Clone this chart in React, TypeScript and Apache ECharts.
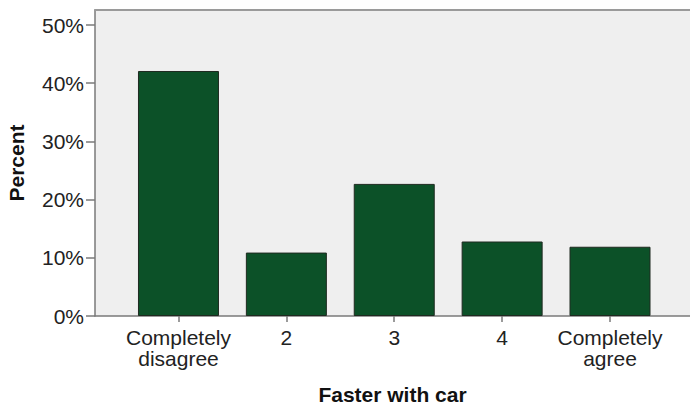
import React, { useEffect, useRef } from "react";
import * as echarts from "echarts";

const categories = ["Completely\ndisagree", "2", "3", "4", "Completely\nagree"];
const percents = [42.1, 10.9, 22.7, 12.8, 11.9];
const yTicks = [0, 10, 20, 30, 40, 50];
const xTitle = "Faster with car";
const yTitle = "Percent";

export default function App() {
  const ref = useRef<HTMLDivElement>(null);
  useEffect(() => {
    document.body.style.margin = "0";
    const chart = echarts.init(ref.current!, null, { renderer: "svg" });
    const positions = categories.map((_, i) => i + 1);
    const font = "Liberation Sans, Arial, sans-serif";
    chart.setOption({
      animation: false,
      backgroundColor: "#ffffff",
      grid: {
        left: 95,
        top: 10,
        right: 0,
        bottom: 89,
        outerBoundsMode: "none",
        containLabel: false,
        show: true,
        backgroundColor: "#efefef",
        borderWidth: 0,
      },
      xAxis: [
        {
          type: "value",
          min: 0.2262,
          max: 5.7414,
          position: "bottom",
          name: xTitle,
          nameLocation: "middle",
          nameGap: 68,
          nameTextStyle: { fontFamily: font, fontSize: 21, fontWeight: "bold", color: "#111" },
          axisLine: { show: true, lineStyle: { color: "#7a7a7a", width: 1.5 } },
          axisTick: { show: true, length: 6, customValues: positions, lineStyle: { color: "#7a7a7a", width: 1.5 } },
          axisLabel: {
            customValues: positions,
            formatter: (v: number) => categories[Math.round(v) - 1] ?? "",
            fontFamily: font,
            fontSize: 21,
            lineHeight: 21,
            color: "#222",
            margin: 11,
          },
          splitLine: { show: false },
        },
        {
          type: "value",
          min: 0.2262,
          max: 5.7414,
          position: "top",
          axisLine: { show: true, lineStyle: { color: "#9a9a9a", width: 2 } },
          axisTick: { show: false },
          axisLabel: { show: false },
          splitLine: { show: false },
        },
      ],
      yAxis: {
        type: "value",
        min: 0,
        max: 52.58,
        name: yTitle,
        nameLocation: "middle",
        nameGap: 68,
        nameTextStyle: { fontFamily: font, fontSize: 21, fontWeight: "bold", color: "#111" },
        axisLine: { show: true, lineStyle: { color: "#7a7a7a", width: 1.5 } },
        axisTick: { show: true, length: 9, customValues: yTicks, lineStyle: { color: "#7a7a7a", width: 1.5 } },
        axisLabel: {
          customValues: yTicks,
          formatter: (v: number) => `${v}%`,
          fontFamily: font,
          fontSize: 21,
          color: "#222",
          margin: 11,
        },
        splitLine: { show: false },
      },
      series: [
        {
          type: "bar",
          xAxisIndex: 0,
          barWidth: 81,
          data: percents.map((p, i) => [positions[i], p]),
          itemStyle: { color: "#0c5128", borderColor: "#1f2a20", borderWidth: 1 },
        },
      ],
    });
    return () => chart.dispose();
  }, []);
  return <div ref={ref} style={{ width: 690, height: 405, position: "absolute", left: 0, top: 0 }} />;
}
